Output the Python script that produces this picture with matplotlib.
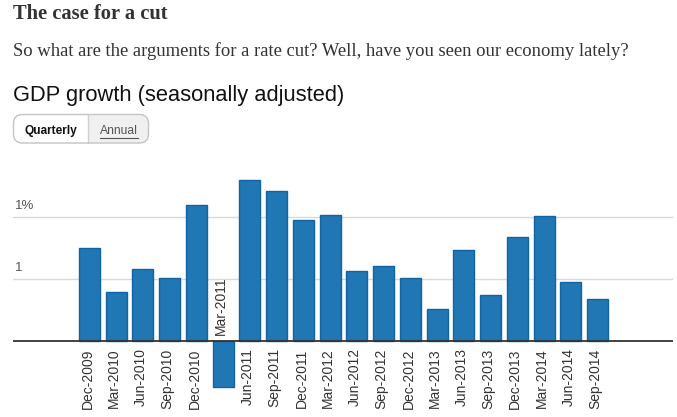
import matplotlib
matplotlib.use("Agg")
import matplotlib.pyplot as plt
from matplotlib.patches import FancyBboxPatch, Rectangle
from matplotlib.transforms import offset_copy

quarters = ["Dec-2009", "Mar-2010", "Jun-2010", "Sep-2010", "Dec-2010", "Mar-2011",
            "Jun-2011", "Sep-2011", "Dec-2011", "Mar-2012", "Jun-2012", "Sep-2012",
            "Dec-2012", "Mar-2013", "Jun-2013", "Sep-2013", "Dec-2013", "Mar-2014",
            "Jun-2014", "Sep-2014"]
growth = [0.75, 0.40, 0.58, 0.51, 1.10, -0.37, 1.30, 1.21, 0.98, 1.02,
          0.57, 0.61, 0.51, 0.26, 0.74, 0.37, 0.84, 1.01, 0.48, 0.34]
grid_vals = [1.0, 0.5]
grid_labels = ["1%", "1"]

title = "The case for a cut"
subtitle = "So what are the arguments for a rate cut? Well, have you seen our economy lately?"
heading = "GDP growth (seasonally adjusted)"

W, H = 677, 417
fig = plt.figure(figsize=(W / 100, H / 100), dpi=100)

# background layer in pixel coords for the page furniture
bg = fig.add_axes([0, 0, 1, 1])
bg.set_xlim(0, W)
bg.set_ylim(H, 0)
bg.axis("off")

def fit(t, target_w):
    r = fig.canvas.get_renderer()
    w = t.get_window_extent(r).width
    t.set_fontsize(t.get_fontsize() * target_w / w)

t1 = bg.text(13, 19, title, fontsize=15, fontweight="bold", family="Liberation Serif",
             color="#333333", va="baseline")
t2 = bg.text(13, 55.5, subtitle, fontsize=12, family="Liberation Serif",
             color="#333333", va="baseline")
t3 = bg.text(13, 101, heading, fontsize=16, family="Liberation Sans",
             color="#111111", va="baseline")
fit(t1, 155)
fit(t2, 616)
fit(t3, 332)

# Quarterly / Annual toggle
box = FancyBboxPatch((13.5, 114.5), 135, 28.5, boxstyle="round,pad=0,rounding_size=9",
                     facecolor="#f0f0f0", edgecolor="none", zorder=1)
bg.add_patch(box)
left = Rectangle((13, 114), 75, 30, facecolor="white", edgecolor="none", zorder=2)
bg.add_patch(left)
left.set_clip_path(box)
bg.plot([88, 88], [114.5, 143], color="#d0d0d0", lw=1, zorder=3)
outline = FancyBboxPatch((13.5, 114.5), 135, 28.5, boxstyle="round,pad=0,rounding_size=9",
                         facecolor="none", edgecolor="#c4c4c4", lw=1, zorder=4)
bg.add_patch(outline)
tq = bg.text(50.5, 134, "Quarterly", fontsize=9, fontweight="bold", family="Liberation Sans",
             color="#111111", ha="center", va="baseline", zorder=5)
ta = bg.text(118.5, 134, "Annual", fontsize=9, family="Liberation Sans",
             color="#555555", ha="center", va="baseline", zorder=5)
fit(tq, 53)
fit(ta, 38)
bg.plot([99.5, 137.5], [137.5, 137.5], color="#555555", lw=0.8, zorder=5)

# chart
ax = fig.add_axes([13 / W, (H - 400) / H, 660 / W, 240 / H])
ax.patch.set_alpha(0)
for s in ax.spines.values():
    s.set_visible(False)
ax.set_xticks([])
ax.set_yticks([])
ax.set_xlim(-2.86, 21.82)
ax.set_ylim(-0.473, 1.462)

for v, lab in zip(grid_vals, grid_labels):
    ax.axhline(v, color="#d9d9d9", lw=1, zorder=0)
    ax.text(0.003, v, lab, transform=offset_copy(ax.get_yaxis_transform(), fig=fig, x=0, y=5, units="dots"),
            fontsize=9.5, family="Liberation Sans", color="#555555", va="bottom", ha="left")

xs = list(range(len(quarters)))
ax.bar(xs, growth, width=0.785, color="#2077b4", edgecolor="#1163a3", lw=1, zorder=2)
ax.axhline(0, color="#333333", lw=1.3, zorder=3)

for x, q, v in zip(xs, quarters, growth):
    if v >= 0:
        tr = offset_copy(ax.transData, fig=fig, x=-2, y=-7, units="dots")
        ax.text(x, 0, q, transform=tr, rotation=90, ha="center", va="top",
                fontsize=10, family="Liberation Sans", color="#333333")
    else:
        tr = offset_copy(ax.transData, fig=fig, x=-2, y=6, units="dots")
        ax.text(x, 0, q, transform=tr, rotation=90, ha="center", va="bottom",
                fontsize=10, family="Liberation Sans", color="#333333")

fig.savefig("out.png", dpi=100)
